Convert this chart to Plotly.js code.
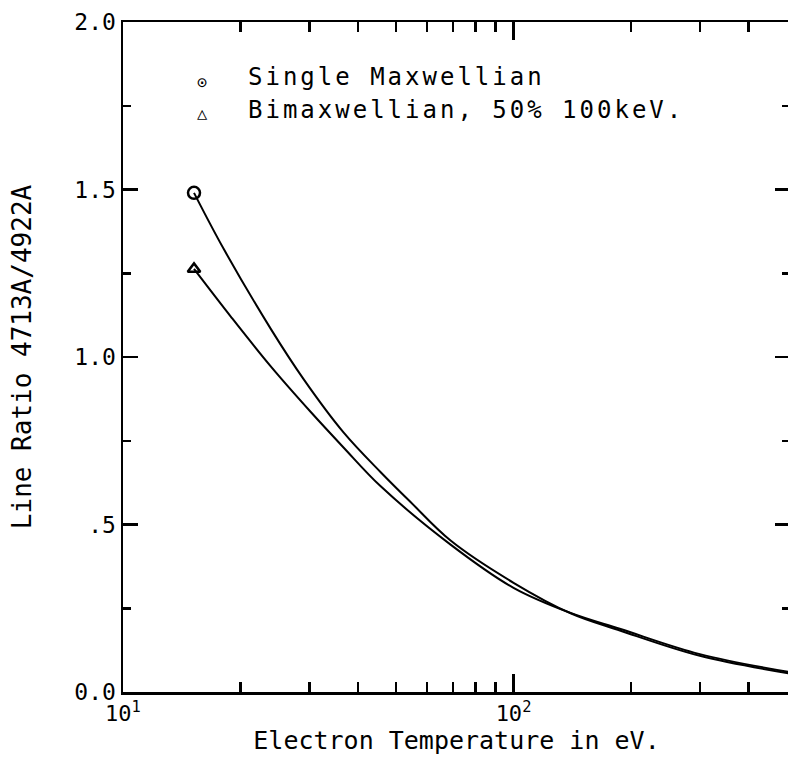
<!DOCTYPE html>
<html>
<head>
<meta charset="utf-8">
<script src="https://cdn.plot.ly/plotly-3.0.1.min.js"></script>
<style>
html, body { margin: 0; padding: 0; overflow: hidden; background: #fff; }
#chart { width: 790px; height: 762px; }
.annotation-text { letter-spacing: 3px; }
</style>
</head>
<body>
<div id="chart"></div>
<script>
// Electron temperature (eV) and line ratio 4713A/4922A
const tempSingle = [15.2, 18.1, 23.9, 29.0, 36.7, 45.7, 54.5, 69, 100, 140, 188, 300, 505];
const ratioSingle = [1.49, 1.323, 1.084, 0.934, 0.775, 0.656, 0.567, 0.452, 0.326, 0.235, 0.183, 0.108, 0.056];

const tempBimax = [15.2, 18.9, 23.9, 30.3, 36.7, 45.7, 69, 100, 140, 188, 300, 505];
const ratioBimax = [1.263, 1.12, 0.972, 0.835, 0.73, 0.614, 0.44, 0.311, 0.236, 0.188, 0.113, 0.06];

const seriesNames = ['Single Maxwellian', 'Bimaxwellian, 50% 100keV.'];
const legendSymbols = ['\u2299', '\u25B3'];

const xTickVals = [10, 100];
const xTickText = ['10<sup>1</sup>', '10<sup>2</sup>'];
const xMinorVals = [20, 30, 40, 50, 60, 70, 80, 90, 200, 300, 400];
const yTickVals = [0, 0.5, 1.0, 1.5, 2.0];
const yTickText = ['0.0', '.5', '1.0', '1.5', '2.0'];
const yMinorVals = [0.25, 0.75, 1.25, 1.75];

const FONT = 'DejaVu Sans Mono, monospace';
const X_RANGE = [1, 2.708];

const traces = [
  {
    x: tempSingle, y: ratioSingle, mode: 'lines', type: 'scatter',
    line: { color: '#000', width: 2, shape: 'spline', smoothing: 1 },
    showlegend: false, hoverinfo: 'skip'
  },
  {
    x: tempBimax, y: ratioBimax, mode: 'lines', type: 'scatter',
    line: { color: '#000', width: 2, shape: 'spline', smoothing: 1 },
    showlegend: false, hoverinfo: 'skip'
  },
  {
    x: [tempSingle[0]], y: [ratioSingle[0]], mode: 'markers', type: 'scatter',
    marker: { symbol: 'circle-open', size: 12, color: '#000', line: { width: 2.5, color: '#000' } },
    name: seriesNames[0], showlegend: false
  },
  {
    x: [tempBimax[0]], y: [ratioBimax[0]], mode: 'markers', type: 'scatter',
    marker: { symbol: 'triangle-up-open', size: 11, color: '#000', line: { width: 2.5, color: '#000' } },
    name: seriesNames[1], showlegend: false
  },
  {
    // carrier trace for the minor-tick axis (no visible marks)
    x: [], y: [], xaxis: 'x2', yaxis: 'y', mode: 'lines', type: 'scatter',
    showlegend: false, hoverinfo: 'skip'
  }
];

const annotations = [];
const legendSymY = [0.910, 0.864];
const legendTextY = [0.918, 0.869];
for (let i = 0; i < seriesNames.length; i++) {
  annotations.push({
    xref: 'paper', yref: 'paper', x: 0.120, y: legendSymY[i],
    xanchor: 'center', yanchor: 'middle', showarrow: false,
    text: legendSymbols[i], font: { family: FONT, size: 17, color: '#000' }
  });
  annotations.push({
    xref: 'paper', yref: 'paper', x: 0.185, y: legendTextY[i],
    xanchor: 'left', yanchor: 'middle', showarrow: false,
    text: seriesNames[i], font: { family: FONT, size: 24, color: '#000' }
  });
}

const layout = {
  width: 790, height: 762,
  margin: { l: 123, r: 0, t: 22, b: 70 },
  paper_bgcolor: '#fff', plot_bgcolor: '#fff',
  showlegend: false,
  font: { family: FONT, color: '#000' },
  xaxis: {
    type: 'log', range: X_RANGE,
    tickmode: 'array', tickvals: xTickVals, ticktext: xTickText,
    ticks: 'inside', ticklen: 18, tickwidth: 2.5, tickcolor: '#000',
    showline: true, linewidth: 2.5, linecolor: '#000', mirror: 'ticks',
    showgrid: false, zeroline: false,
    tickfont: { family: FONT, size: 22, color: '#000' },
    title: { text: 'Electron Temperature in eV.', font: { family: FONT, size: 25, color: '#000' }, standoff: 4 }
  },
  xaxis2: {
    type: 'log', range: X_RANGE, overlaying: 'x', anchor: 'y', side: 'bottom',
    tickmode: 'array', tickvals: xMinorVals, showticklabels: false,
    ticks: 'inside', ticklen: 10, tickwidth: 2.5, tickcolor: '#000',
    showline: false, mirror: 'ticks',
    showgrid: false, zeroline: false
  },
  yaxis: {
    range: [0, 2],
    tickmode: 'array', tickvals: yTickVals, ticktext: yTickText,
    ticks: 'inside', ticklen: 15, tickwidth: 2.5, tickcolor: '#000',
    showline: true, linewidth: 2.5, linecolor: '#000', mirror: 'ticks',
    showgrid: false, zeroline: false,
    tickfont: { family: FONT, size: 23, color: '#000' },
    minor: { tickmode: 'array', tickvals: yMinorVals, ticks: 'inside', ticklen: 8, tickwidth: 2.5, tickcolor: '#000', showgrid: false },
    title: { text: 'Line Ratio 4713A/4922A', font: { family: FONT, size: 26, color: '#000' }, standoff: 36 }
  },
  annotations: annotations
};

Plotly.newPlot('chart', traces, layout, { staticPlot: true, displayModeBar: false });
</script>
</body>
</html>
